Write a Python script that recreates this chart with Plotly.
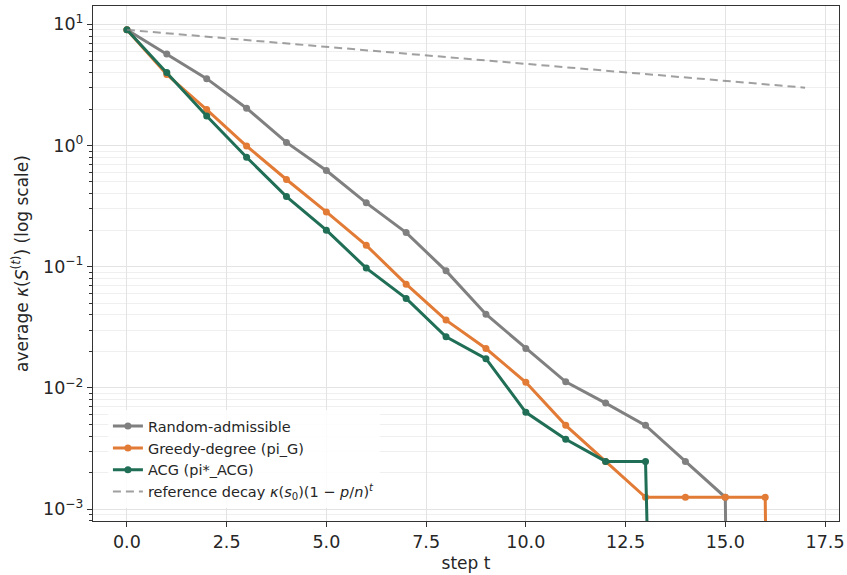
import plotly.graph_objects as go

steps = list(range(18))

random_admissible = [9.0, 5.69, 3.56, 2.03, 1.06, 0.621, 0.336, 0.191, 0.0923, 0.0405,
                     0.0211, 0.0112, 0.00748, 0.0049, 0.00247, 0.00125, 0.0, 0.0]
greedy_degree = [9.0, 3.85, 1.98, 0.99, 0.524, 0.283, 0.150, 0.0717, 0.0362, 0.0211,
                 0.0111, 0.0049, 0.00247, 0.00125, 0.00125, 0.00125, 0.00125, 0.0]
acg = [9.0, 4.0, 1.75, 0.80, 0.379, 0.200, 0.0973, 0.0547, 0.0264, 0.0174,
       0.00628, 0.00376, 0.00247, 0.00247, 0.0, 0.0, 0.0, 0.0]

ref_steps = [0, 17]
ref_decay = [9.0, 3.0]

series_names = ["Random-admissible", "Greedy-degree (pi_G)", "ACG (pi*_ACG)"]
ref_name = ("reference decay <i>κ</i>(<i>s</i><sub>0</sub>)(1 − <i>p</i>/<i>n</i>)"
            "<sup><i>t</i></sup>")

colors = ["#808080", "#E27B36", "#1F6E55"]

x_ticks = [0, 2.5, 5, 7.5, 10, 12.5, 15, 17.5]
x_ticktext = ["0.0", "2.5", "5.0", "7.5", "10.0", "12.5", "15.0", "17.5"]
y_ticks = [1e-3, 1e-2, 1e-1, 1, 10]
y_ticktext = ["10<sup>−3</sup>", "10<sup>−2</sup>", "10<sup>−1</sup>",
              "10<sup>0</sup>", "10<sup>1</sup>"]
y_minor = [m * 10.0 ** e for e in range(-4, 2) for m in range(2, 10)]

FLOOR = 1e-30  # log axis: non-positive values are clipped like matplotlib


def clip(vals):
    return [v if v > 0 else FLOOR for v in vals]


fig = go.Figure()
for name, vals, c in zip(series_names, [random_admissible, greedy_degree, acg], colors):
    fig.add_trace(go.Scatter(
        x=steps, y=clip(vals), name=name, mode="lines+markers",
        line=dict(color=c, width=3), marker=dict(color=c, size=7),
    ))

fig.add_trace(go.Scatter(
    x=ref_steps, y=ref_decay, name=ref_name, mode="lines",
    line=dict(color="rgba(128,128,128,0.75)", width=2, dash="8px,5px"),
))

font_family = "DejaVu Sans, Verdana, sans-serif"
fig.update_layout(
    width=847, height=575,
    margin=dict(l=93, r=8, t=6, b=54, autoexpand=False),
    paper_bgcolor="white", plot_bgcolor="white",
    font=dict(family=font_family, color="#262626", size=17),
    showlegend=True,
    legend=dict(
        x=0.02, y=0.025, xanchor="left", yanchor="bottom",
        bgcolor="rgba(255,255,255,0.85)", borderwidth=0,
        font=dict(size=14.5, color="#262626"),
        tracegroupgap=0, itemwidth=30,
    ),
)

fig.update_xaxes(
    range=[-0.85, 17.85], tickvals=x_ticks, ticktext=x_ticktext,
    automargin=False,
    showline=True, mirror=True, linecolor="#333333", linewidth=1.2,
    ticks="outside", ticklen=5, tickcolor="#333333",
    showgrid=True, gridcolor="#e3e3e3", gridwidth=1, zeroline=False,
    title=dict(text="step t", font=dict(size=17), standoff=6),
    tickfont=dict(size=17.5),
)

fig.update_yaxes(
    type="log", range=[-3.099, 1.151],
    tickvals=y_ticks, ticktext=y_ticktext,
    automargin=False,
    showline=True, mirror=True, linecolor="#333333", linewidth=1.2,
    ticks="outside", ticklen=5, tickcolor="#333333",
    showgrid=True, gridcolor="#e3e3e3", gridwidth=1, zeroline=False,
    minor=dict(tickvals=y_minor, ticks="outside", ticklen=3, tickcolor="#333333",
               showgrid=True, gridcolor="#efefef", gridwidth=1),
    title=dict(text="average <i>κ</i>(<i>S</i><sup>(<i>t</i>)</sup>) (log scale)",
               font=dict(size=17), standoff=10),
    tickfont=dict(size=17.5),
)

fig.write_html(
    "out.html",
    config={"displayModeBar": False},
    post_script="document.body.style.margin='0';document.body.style.overflow='hidden';",
)
